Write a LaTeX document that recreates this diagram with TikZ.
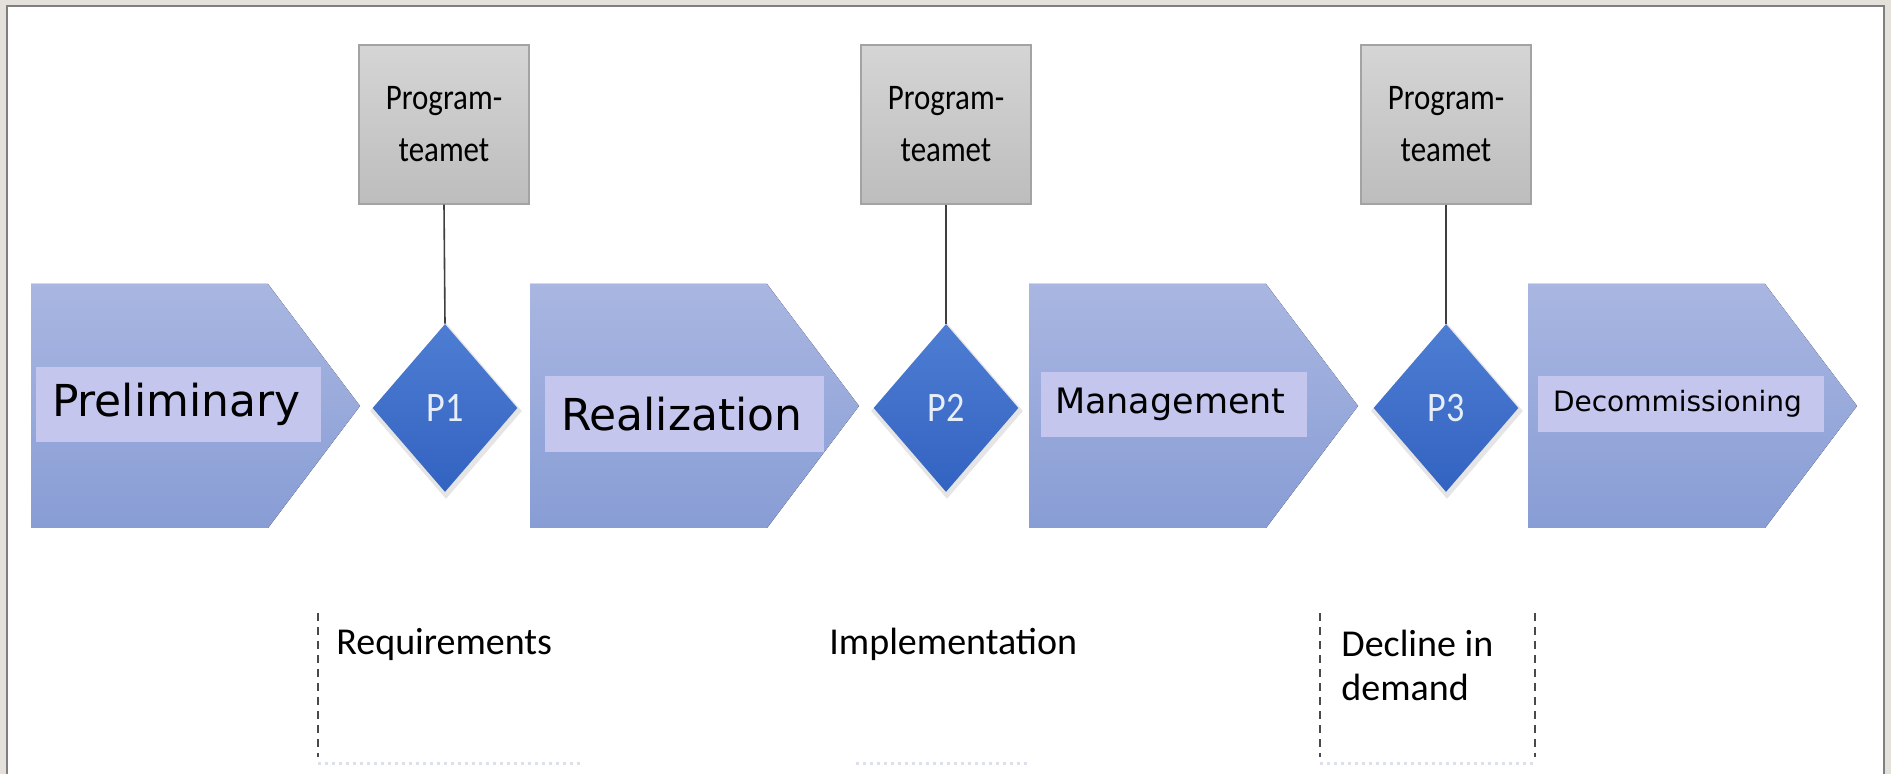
\documentclass[tikz,border=0pt]{standalone}
\usepackage{fontspec}
\setmainfont{Carlito}
\newfontfamily\labelfont{DejaVu Sans}
\newfontfamily\narrowfont[FakeStretch=0.86]{Carlito}
\usetikzlibrary{shapes.geometric}
\definecolor{bgray}{HTML}{E4E0DB}
\definecolor{framegray}{HTML}{7F7F7F}
\definecolor{chevtop}{HTML}{A9B6E1}
\definecolor{chevbot}{HTML}{889DD5}
\definecolor{lav}{HTML}{C5C6EE}
\definecolor{gatetop}{HTML}{4E7DD3}
\definecolor{gatebot}{HTML}{3363C1}
\definecolor{boxtop}{HTML}{D5D5D5}
\definecolor{boxbot}{HTML}{BDBDBD}
\definecolor{boxedge}{HTML}{A3A3A3}
\definecolor{linkgray}{HTML}{3F3F3F}
\definecolor{dashgray}{HTML}{4A4A4A}
\definecolor{faint}{HTML}{DCE0EC}
\definecolor{ptext}{HTML}{E6EEFA}
\begin{document}
\begin{tikzpicture}[x=0.5pt,y=-0.5pt,
  chev/.style={top color=chevtop,bottom color=chevbot,draw=none},
  team/.style={draw=boxedge,line width=0.6pt,top color=boxtop,bottom color=boxbot,
    minimum width=85pt,minimum height=79.5pt,inner sep=0pt,align=center,
    font=\narrowfont\fontsize{18}{26}\selectfont},
  gate/.style={diamond,minimum width=72.5pt,minimum height=84pt,inner sep=0pt,
    top color=gatetop,bottom color=gatebot,draw=none},
  gateglow/.style={diamond,minimum width=76pt,minimum height=88pt,inner sep=0pt,
    fill=black,opacity=0.10,draw=none},
  gatetext/.style={text=ptext,font=\narrowfont\fontsize{21}{24}\selectfont,inner sep=0pt},
  phase/.style={fill=lav,inner ysep=0pt,align=left},
  note/.style={font=\fontsize{19}{22}\selectfont,align=left,inner sep=0pt,anchor=north west},
  cut/.style={draw=dashgray,line width=0.6pt,dash pattern=on 4pt off 3pt},
  faintline/.style={draw=faint,line width=1.5pt,dotted},
  link/.style={draw=linkgray,line width=0.8pt},
]
\useasboundingbox (0,0) rectangle (1891,774);
\fill[bgray] (0,0) rectangle (1891,774);
\filldraw[fill=white,draw=framegray,line width=1pt] (7,6) rectangle (1884,800);

% chevrons
\foreach \x in {31,530,1029,1528}{
  \fill[chev] (\x,284) -- ++(237,0) -- ++(92,122) -- ++(-92,122) -- ++(-237,0) -- cycle;
}

% program team boxes
\node[team] (t1) at (444,124.5) {Program-\\teamet};
\node[team] (t2) at (946,124.5) {Program-\\teamet};
\node[team] (t3) at (1446,124.5) {Program-\\teamet};

% gates
\node[gateglow] (s1) at (446,411) {};
\node[gateglow] (s2) at (947,411) {};
\node[gateglow] (s3) at (1447,411) {};
\node[gate] (g1) at (445,408) {};
\node[gate] (g2) at (946,408) {};
\node[gate] (g3) at (1446,408) {};
\node[gatetext] (p1) at (g1) {P1};
\node[gatetext] (p2) at (g2) {P2};
\node[gatetext] (p3) at (g3) {P3};

\draw[link] (t1.south) -- (g1.north);
\draw[link] (t2.south) -- (g2.north);
\draw[link] (t3.south) -- (g3.north);

% phase labels
\node[phase,minimum width=142.5pt,minimum height=37.5pt,text width=126.5pt,inner xsep=8pt,
  font=\labelfont\fontsize{22}{26}\selectfont] (l1) at (178.5,404.5) {Preliminary};
\node[phase,minimum width=139.5pt,minimum height=38pt,text width=123.5pt,inner xsep=8pt,
  font=\labelfont\fontsize{22}{26}\selectfont] (l2) at (684.5,414) {Realization};
\node[phase,minimum width=133pt,minimum height=32.5pt,text width=119pt,inner xsep=7pt,
  font=\labelfont\fontsize{17.5}{21}\selectfont] (l3) at (1174,404.5) {Management};
\node[phase,minimum width=143pt,minimum height=28pt,text width=128pt,inner xsep=7.5pt,
  font=\labelfont\fontsize{14}{17}\selectfont] (l4) at (1681,404) {Decommissioning};

% notes below
\draw[cut] (318,613) -- (318,757);
\draw[faintline] (318,764) -- (582,764);
\node[note] (n1) at (336,628) {Requirements};

\draw[faintline] (856,764) -- (1031,764);
\node[note] (n2) at (829,628) {Implementation};

\draw[cut] (1320,613) -- (1320,757);
\draw[cut] (1535,613) -- (1535,757);
\draw[faintline] (1320,764) -- (1535,764);
\node[note] (n3) at (1341,630) {Decline in\\demand};
\end{tikzpicture}
\end{document}
